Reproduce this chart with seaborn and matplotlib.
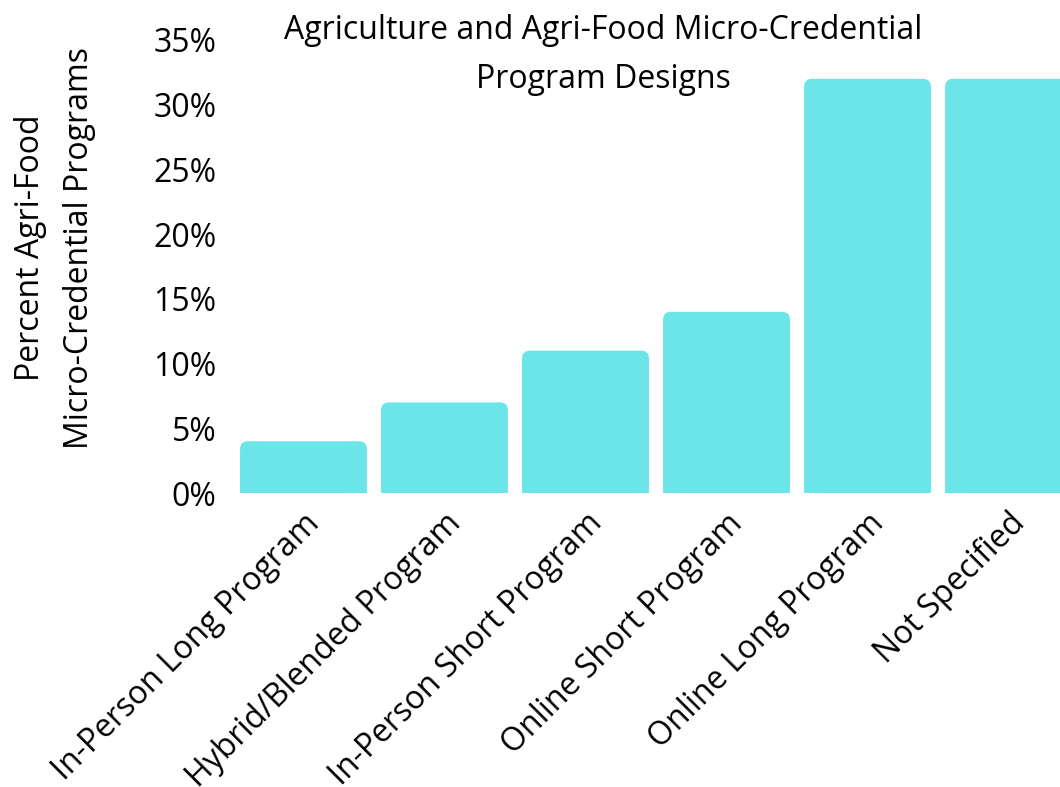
import matplotlib
matplotlib.use("Agg")
import matplotlib.pyplot as plt
import seaborn as sns
import pandas as pd
from matplotlib.patches import FancyBboxPatch
from matplotlib.ticker import FuncFormatter

categories = ["In-Person Long Program", "Hybrid/Blended Program", "In-Person Short Program",
              "Online Short Program", "Online Long Program", "Not Specified"]
values = [4, 7, 11, 14, 32, 32]
yticks = [0, 5, 10, 15, 20, 25, 30, 35]
title = "Agriculture and Agri-Food Micro-Credential\nProgram Designs"
ylabel = "Percent Agri-Food\nMicro-Credential Programs"

sns.set_theme(style="white")
plt.rcParams["font.family"] = ["Open Sans", "DejaVu Sans"]

df = pd.DataFrame({"cat": categories, "val": values})
fig = plt.figure(figsize=(10.6, 7.87), dpi=100)
ax = fig.add_axes([233/1060, 294/787, 846/1060, 453/787])
color = "#6be5e8"
sns.barplot(data=df, x="cat", y="val", color=color, width=0.9, saturation=1, ax=ax)

# replace bars with rounded-top bars
px_per_x = 846/6.0
px_per_y = 453/35.0
r_px = 8
for p in list(ax.patches):
    x0, w, h = p.get_x(), p.get_width(), p.get_height()
    p.remove()
    rb = FancyBboxPatch((x0, -2), w, h + 2,
                        boxstyle=f"round,pad=0,rounding_size={r_px/px_per_x}",
                        mutation_aspect=px_per_x/px_per_y,
                        facecolor=color, edgecolor="none", clip_on=True)
    ax.add_patch(rb)

ax.set_xlim(-0.5, 5.5)
ax.set_ylim(0, 35)
ax.set_yticks(yticks)
ax.yaxis.set_major_formatter(FuncFormatter(lambda v, _: f"{v:.0f}%"))
for s in ax.spines.values():
    s.set_visible(False)
ax.tick_params(axis="both", length=0, labelsize=23, colors="black")
ax.tick_params(axis="y", pad=12)
ax.tick_params(axis="x", pad=10)
plt.setp(ax.get_xticklabels(), rotation=45, ha="right", va="top", rotation_mode="anchor")
ax.set_xlabel("")
ax.set_ylabel("")
ax.grid(False)

fig.text(603/1060, 1 - 55/787, title, ha="center", va="center", fontsize=23,
         linespacing=1.63, color="black")
fig.text(55/1060, 1 - 248/787, ylabel, ha="center", va="center", rotation=90, fontsize=23,
         linespacing=1.63, color="black")

fig.savefig("out.png", dpi=100)
